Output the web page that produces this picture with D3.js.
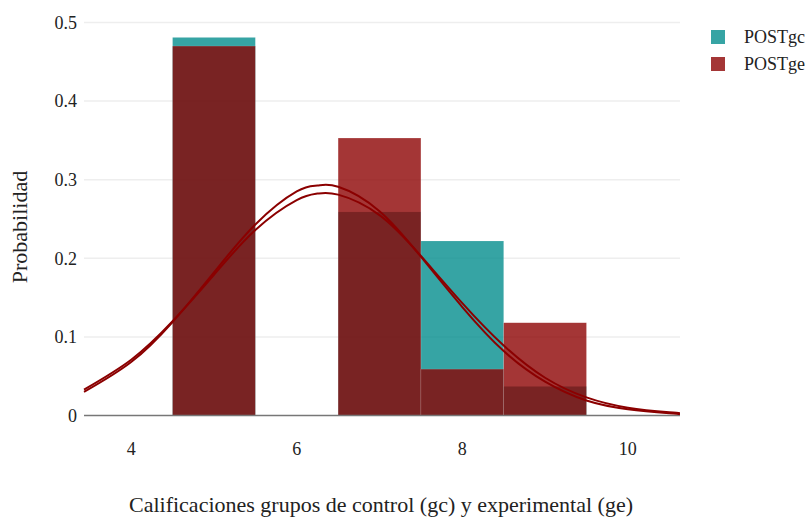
<!DOCTYPE html>
<html>
<head>
<meta charset="utf-8">
<script src="https://cdn.jsdelivr.net/npm/d3@7"></script>
<style>
  body { margin: 0; background: #fff; }
  svg text { font-family: "Liberation Serif", "DejaVu Serif", serif; fill: #222; }
</style>
</head>
<body>
<div id="chart"></div>
<script>
// histogram bins (centres, width 1) and probabilities
const binCenters = [5, 6, 7, 8, 9];
const postGC = [0.481, 0, 0.259, 0.222, 0.037];
const postGE = [0.470, 0, 0.353, 0.059, 0.118];

// density curves
const curveX  = [3.43, 4, 4.5, 5, 5.5, 6, 6.25, 6.5, 7, 7.5, 8, 8.5, 9, 9.5, 10, 10.5, 10.63];
const curveGC = [0.030, 0.068, 0.119, 0.182, 0.243, 0.285, 0.2925, 0.291, 0.260, 0.202, 0.138, 0.082, 0.043, 0.019, 0.008, 0.003, 0.002];
const curveGE = [0.033, 0.071, 0.120, 0.179, 0.236, 0.274, 0.2823, 0.281, 0.255, 0.203, 0.143, 0.089, 0.048, 0.023, 0.010, 0.004, 0.003];

const xTicks = [4, 6, 8, 10];
const yTicks = [0, 0.1, 0.2, 0.3, 0.4, 0.5];
const seriesNames = ["POSTgc", "POSTge"];
const seriesColors = ["rgb(0,139,139)", "rgb(139,0,0)"];

const width = 807, height = 518;
const margin = { left: 84, right: 127, top: 10, bottom: 103 };

const svg = d3.select("#chart").append("svg")
  .attr("width", width).attr("height", height);

const x = d3.scaleLinear().domain([3.43, 10.63]).range([margin.left, width - margin.right]);
const y = d3.scaleLinear().domain([0, 0.5]).range([415.5, 22.5]);

// grid
svg.append("g").selectAll("line")
  .data(yTicks.filter(d => d > 0))
  .join("line")
  .attr("x1", margin.left).attr("x2", width - margin.right)
  .attr("y1", d => y(d)).attr("y2", d => y(d))
  .attr("stroke", "#eeeeee").attr("stroke-width", 1.5);

// bars
[postGC, postGE].forEach((vals, s) => {
  svg.append("g").selectAll("rect")
    .data(binCenters.map((c, i) => ({ c, v: vals[i] })).filter(d => d.v > 0))
    .join("rect")
    .attr("x", d => x(d.c - 0.5))
    .attr("width", d => x(d.c + 0.5) - x(d.c - 0.5))
    .attr("y", d => y(d.v))
    .attr("height", d => y(0) - y(d.v))
    .attr("fill", seriesColors[s])
    .attr("fill-opacity", 0.79)
    .attr("stroke", "rgba(255,255,255,0.25)")
    .attr("stroke-width", 0.5);
});

// zero line
svg.append("line")
  .attr("x1", margin.left).attr("x2", width - margin.right)
  .attr("y1", y(0)).attr("y2", y(0))
  .attr("stroke", "#777").attr("stroke-width", 1.3);

// density curves
const line = d3.line()
  .x((d, i) => x(curveX[i]))
  .y(d => y(d))
  .curve(d3.curveNatural);

[curveGC, curveGE].forEach(c => {
  svg.append("path")
    .attr("d", line(c))
    .attr("fill", "none")
    .attr("stroke", "#8b0000")
    .attr("stroke-width", 2);
});

// axes labels
svg.append("g").selectAll("text")
  .data(yTicks)
  .join("text")
  .attr("x", 77).attr("y", d => y(d))
  .attr("dy", "0.35em")
  .attr("text-anchor", "end")
  .attr("font-size", 18)
  .text(d => d === 0 ? "0" : d3.format(".1f")(d));

svg.append("g").selectAll("text")
  .data(xTicks)
  .join("text")
  .attr("x", d => x(d)).attr("y", 449)
  .attr("dy", "0.35em")
  .attr("text-anchor", "middle")
  .attr("font-size", 18)
  .text(d => d);

svg.append("text")
  .attr("x", 381).attr("y", 504)
  .attr("dy", "0.35em")
  .attr("text-anchor", "middle")
  .attr("font-size", 22)
  .text("Calificaciones grupos de control (gc) y experimental (ge)");

svg.append("text")
  .attr("transform", "translate(19,227) rotate(-90)")
  .attr("dy", "0.35em")
  .attr("text-anchor", "middle")
  .attr("font-size", 22)
  .text("Probabilidad");

// legend
const legend = svg.append("g").selectAll("g")
  .data(seriesNames)
  .join("g")
  .attr("transform", (d, i) => `translate(711,${37 + i * 27})`);

legend.append("rect")
  .attr("x", 0).attr("y", -7).attr("width", 14).attr("height", 14)
  .attr("fill", (d, i) => seriesColors[i])
  .attr("fill-opacity", 0.79);

legend.append("text")
  .attr("x", 33).attr("y", 0).attr("dy", "0.35em")
  .attr("font-size", 18)
  .text(d => d);
</script>
</body>
</html>
